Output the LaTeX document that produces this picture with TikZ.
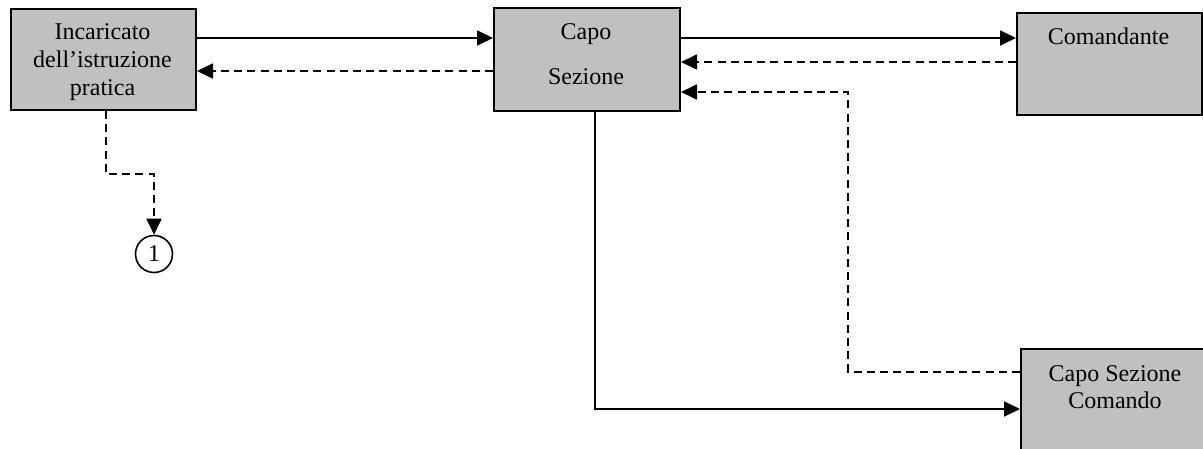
\documentclass[tikz,border=0pt]{standalone}
\usepackage{fontspec}
\setmainfont{Liberation Serif}
\usetikzlibrary{arrows.meta}
\begin{document}
\begin{tikzpicture}[x=0.5pt,y=-0.5pt,
  box/.style={draw=black,line width=1pt,fill=boxgray,inner sep=0pt,anchor=north west},
  txt/.style={anchor=base,inner sep=0pt,font=\fontsize{12pt}{14pt}\selectfont},
  conn/.style={line width=0.9pt,-{Triangle[length=8pt,width=7.5pt]}},
  dconn/.style={conn,dash pattern=on 4pt off 2.6pt}]
\definecolor{boxgray}{HTML}{C0C0C0}
\useasboundingbox (0,0) rectangle (1203,449);
\clip (0,0) rectangle (1203,449);
% boxes
\node[box,minimum width=92.5pt,minimum height=50.5pt] (b1) at (10,8) {};
\node[box,minimum width=93pt,minimum height=51.5pt] (b2) at (493,7) {};
\node[box,minimum width=92.5pt,minimum height=51pt] (b3) at (1016,12) {};
\node[box,minimum width=96pt,minimum height=66pt] (b4) at (1020,348) {};
\node[draw=black,line width=0.8pt,circle,minimum size=18.5pt,inner sep=0pt,font=\fontsize{12pt}{14pt}\selectfont] (c1) at (154,254) {1};
% texts
\node[txt] (t1a) at (102.5,40) {Incaricato};
\node[txt] (t1b) at (102.5,68) {dell’istruzione};
\node[txt] (t1c) at (102.5,96) {pratica};
\node[txt] (t2a) at (586,40) {Capo};
\node[txt] (t2b) at (586,84) {Sezione};
\node[txt] (t3) at (1108.5,45) {Comandante};
\node[txt] (t4a) at (1115,381) {Capo Sezione};
\node[txt] (t4b) at (1115,408) {Comando};
% connectors
\coordinate (k1) at (106,174);
\coordinate (k2) at (154,174);
\coordinate (k3) at (848,372);
\coordinate (k4) at (848,92);
\coordinate (k5) at (595,409);
\draw[conn] (b1.east |- 0,38) -- (b2.west |- 0,38);
\draw[dconn] (b2.west |- 0,71) -- (b1.east |- 0,71);
\draw[conn] (b2.east |- 0,38) -- (b3.west |- 0,38);
\draw[dconn] (b3.west |- 0,62) -- (b2.east |- 0,62);
\draw[dconn] (b4.west |- k3) -- (k3) -- (k4) -- (b2.east |- k4);
\draw[conn] (b2.south -| k5) -- (k5) -- (b4.west |- k5);
\draw[dconn] (b1.south -| k1) -- (k1) -- (k2) -- (c1.north);
\end{tikzpicture}
\end{document}
